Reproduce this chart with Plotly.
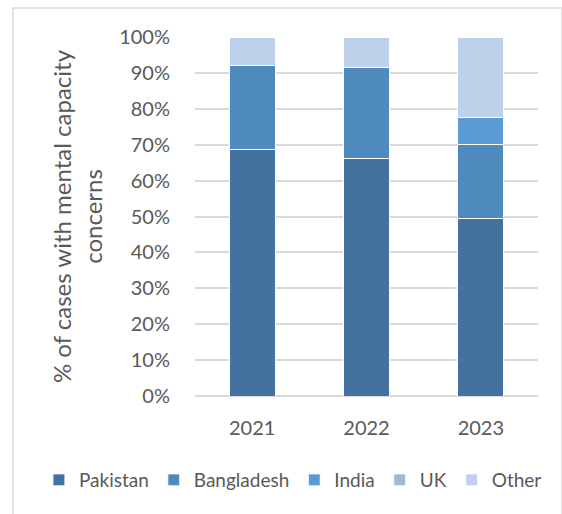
import plotly.graph_objects as go

years = ["2021", "2022", "2023"]
pakistan = [0.686, 0.661, 0.494]
bangladesh = [0.236, 0.253, 0.206]
india = [0.0, 0.0, 0.075]
uk = [0.0, 0.0, 0.0]
other = [0.078, 0.086, 0.225]

series = [
    ("Pakistan", pakistan, "#43729e"),
    ("Bangladesh", bangladesh, "#4e8abe"),
    ("India", india, "#5b9bd5"),
    ("UK", uk, "#9abbe0"),
    ("Other", other, "#bdd1ea"),
]

fig = go.Figure()
for name, vals, col in series:
    fig.add_trace(go.Bar(
        x=years, y=vals, name=name,
        marker={"color": col, "line": {"color": "white", "width": 1}},
    ))

font = "Lato, 'Open Sans', sans-serif"
fig.update_layout(
    barmode="stack",
    bargap=0.6,
    width=562, height=514,
    margin={"l": 195, "r": 24, "t": 37, "b": 118, "autoexpand": False},
    paper_bgcolor="white",
    plot_bgcolor="white",
    font={"family": font, "color": "#595959", "size": 20},
    showlegend=True,
    # legend sits left of / below the plot so it may use the full width
    legend={"orientation": "h", "x": -0.455, "xanchor": "left",
            "y": -0.234, "yanchor": "middle",
            "font": {"size": 19}, "traceorder": "normal", "itemwidth": 30},
    xaxis={"showgrid": False, "showline": False, "ticks": "outside",
           "ticklen": 14, "tickcolor": "white", "tickfont": {"size": 20}},
    yaxis={"range": [0, 1], "tickformat": ".0%", "dtick": 0.1,
           "gridcolor": "#d9d9d9", "gridwidth": 1.5, "zeroline": True,
           "zerolinecolor": "#d9d9d9", "zerolinewidth": 1.5,
           "tickfont": {"size": 20}, "ticks": "outside", "ticklen": 20,
           "tickcolor": "white", "automargin": False,
           "title": {"text": "% of cases with mental capacity<br>concerns",
                     "font": {"size": 24}, "standoff": 9}},
    shapes=[{"type": "rect", "xref": "paper", "yref": "paper",
             "x0": -0.531, "x1": 1.07, "y0": -0.36, "y1": 1.081,
             "line": {"color": "#d9d9d9", "width": 1.5}}],
)

fig.write_html("out.html", config={"displayModeBar": False},
               post_script="document.body.style.margin='0';")
